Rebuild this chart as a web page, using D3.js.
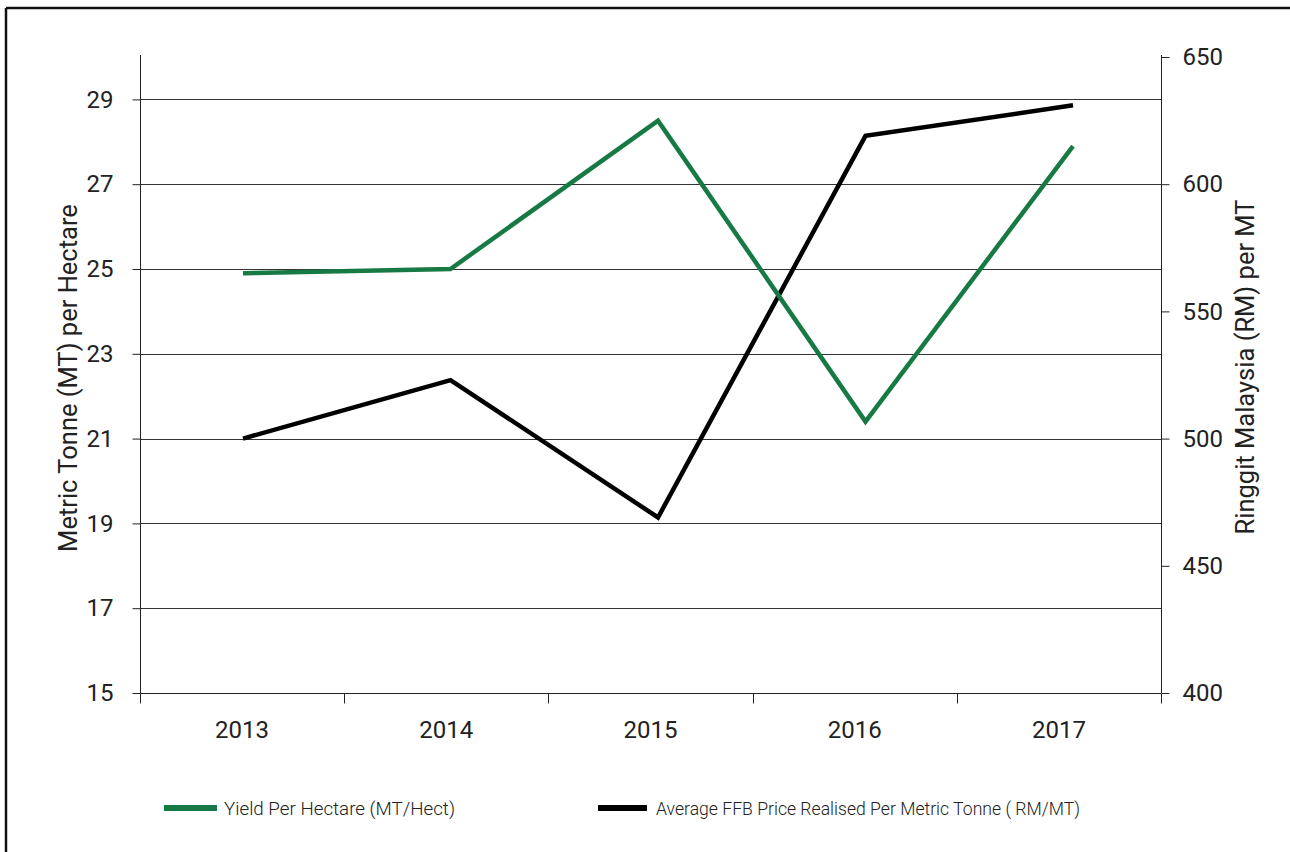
<!DOCTYPE html>
<html>
<head>
<meta charset="utf-8">
<script src="https://cdn.jsdelivr.net/npm/d3@7"></script>
<style>
  html, body { margin: 0; padding: 0; background: #fff; }
  svg { display: block; }
  .tick-label { font-family: Roboto, "Liberation Sans", sans-serif; font-size: 24px; fill: #222; }
  .axis-title { font-family: Roboto, "Liberation Sans", sans-serif; font-size: 25.5px; fill: #222; }
  .legend-text { font-family: Roboto, "Liberation Sans", sans-serif; font-size: 19px; font-weight: 300; fill: #222; }
</style>
</head>
<body>
<svg id="chart" width="1290" height="852"></svg>
<script>
// Years on the category axis
const years = ["2013", "2014", "2015", "2016", "2017"];
// Yield per hectare (MT/Hect), left axis
const yieldPerHectare = [24.9, 25.0, 28.5, 21.4, 27.9];
// Average FFB price realised per metric tonne (RM/MT), right axis
const ffbPrice = [500, 523, 469, 619, 631];
// Tick values for both vertical axes
const leftTicks = [15, 17, 19, 21, 23, 25, 27, 29];
const rightTicks = [400, 450, 500, 550, 600, 650];
// Series names for the legend
const seriesNames = ["Yield Per Hectare (MT/Hect)", "Average FFB Price Realised Per Metric Tonne ( RM/MT)"];

const svg = d3.select("#chart");
const plot = { left: 140, right: 1161, top: 57, bottom: 693 };
const green = "#177a45";

const x = d3.scaleBand().domain(years).range([plot.left, plot.right]).padding(0);
// Series vertices sit on a slightly wider point spacing than the bands
const xp = d3.scalePoint().domain(years).range([243, 1073]);
const yL = d3.scaleLinear().domain([15, 30]).range([plot.bottom, plot.top]);
const yR = d3.scaleLinear().domain([400, 650]).range([plot.bottom, plot.top]);

// Outer frame: top and left edges
svg.append("line").attr("x1", 6).attr("x2", 1290).attr("y1", 8).attr("y2", 8)
  .attr("stroke", "#111").attr("stroke-width", 2.5);
svg.append("line").attr("x1", 6).attr("x2", 6).attr("y1", 8).attr("y2", 852)
  .attr("stroke", "#111").attr("stroke-width", 2.5);

// Horizontal gridlines at the left-axis ticks
svg.append("g").selectAll("line")
  .data(leftTicks.filter(d => d > 15))
  .join("line")
  .attr("x1", plot.left).attr("x2", plot.right)
  .attr("y1", d => Math.round(yL(d)) + 0.5).attr("y2", d => Math.round(yL(d)) + 0.5)
  .attr("stroke", "#333").attr("stroke-width", 1);

// Left axis
const leftAxis = svg.append("g")
  .attr("transform", `translate(${plot.left + 0.5},0)`)
  .call(d3.axisLeft(yL).tickValues(leftTicks).tickSize(8).tickPadding(19).tickFormat(d3.format("d")));
leftAxis.select(".domain").attr("d", `M0,${plot.top - 2}V${plot.bottom}`).attr("stroke", "#222");
leftAxis.selectAll(".tick line").attr("stroke", "#222");
leftAxis.selectAll(".tick text").attr("class", "tick-label");
leftAxis.attr("font-size", null).attr("font-family", null);

// Right axis
const rightAxis = svg.append("g")
  .attr("transform", `translate(${plot.right + 0.5},0)`)
  .call(d3.axisRight(yR).tickValues(rightTicks).tickSize(8).tickPadding(13).tickFormat(d3.format("d")));
rightAxis.select(".domain").attr("d", `M0,${plot.top - 2}V${plot.bottom}`).attr("stroke", "#222");
rightAxis.selectAll(".tick line").attr("stroke", "#222");
rightAxis.selectAll(".tick text").attr("class", "tick-label");
rightAxis.attr("font-size", null).attr("font-family", null);

// Bottom category axis with ticks at band boundaries
const xAxisG = svg.append("g").attr("transform", `translate(0,${Math.round(plot.bottom) + 0.5})`);
xAxisG.append("line").attr("x1", plot.left).attr("x2", plot.right).attr("stroke", "#222");
const bounds = years.map(d => x(d)).concat([x(years[years.length - 1]) + x.bandwidth()]);
xAxisG.selectAll(".btick").data(bounds).join("line")
  .attr("x1", d => Math.round(d) + 0.5).attr("x2", d => Math.round(d) + 0.5)
  .attr("y1", 0).attr("y2", 10).attr("stroke", "#222");
xAxisG.selectAll(".xlabel").data(years).join("text")
  .attr("class", "tick-label")
  .attr("x", d => x(d) + x.bandwidth() / 2)
  .attr("y", 44)
  .attr("text-anchor", "middle")
  .text(d => d);

// Axis titles
svg.append("text").attr("class", "axis-title")
  .attr("transform", `translate(77,378) rotate(-90)`)
  .attr("text-anchor", "middle")
  .text("Metric Tonne (MT) per Hectare");
svg.append("text").attr("class", "axis-title")
  .attr("transform", `translate(1254,367) rotate(-90)`)
  .attr("text-anchor", "middle")
  .text("Ringgit Malaysia (RM) per MT");

// Series lines
const lineL = d3.line().x((d, i) => xp(years[i])).y(d => yL(d));
const lineR = d3.line().x((d, i) => xp(years[i])).y(d => yR(d));

svg.append("path").datum(ffbPrice)
  .attr("d", lineR).attr("fill", "none").attr("stroke", "#000").attr("stroke-width", 4.5)
  .attr("stroke-linejoin", "miter");
svg.append("path").datum(yieldPerHectare)
  .attr("d", lineL).attr("fill", "none").attr("stroke", green).attr("stroke-width", 4.5)
  .attr("stroke-linejoin", "miter");

// Legend
const legend = [
  { name: seriesNames[0], color: green, x1: 164, x2: 217, tx: 224, w: 231 },
  { name: seriesNames[1], color: "#000", x1: 598, x2: 647, tx: 656, w: 424 }
];
const lg = svg.append("g");
lg.selectAll("line").data(legend).join("line")
  .attr("x1", d => d.x1).attr("x2", d => d.x2)
  .attr("y1", 808).attr("y2", 808)
  .attr("stroke", d => d.color).attr("stroke-width", 6);
lg.selectAll("text").data(legend).join("text")
  .attr("class", "legend-text")
  .attr("x", d => d.tx).attr("y", 815)
  .attr("textLength", d => d.w)
  .attr("lengthAdjust", "spacingAndGlyphs")
  .text(d => d.name);
</script>
</body>
</html>
